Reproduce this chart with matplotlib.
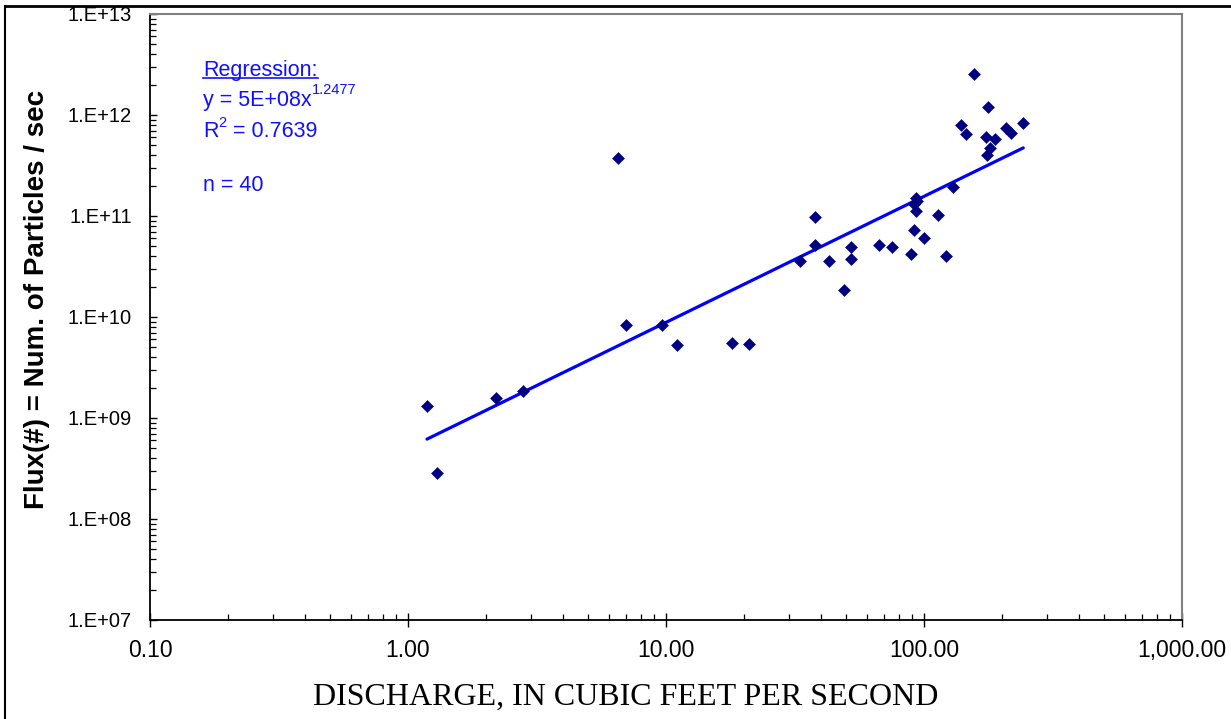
import numpy as np
import matplotlib
matplotlib.use("Agg")
import matplotlib.pyplot as plt
from matplotlib.ticker import FixedLocator, FixedFormatter, LogLocator, NullFormatter
from matplotlib.lines import Line2D

# Discharge (cfs) and particle flux (#/s) for the 40 samples
discharge = [1.185, 1.30, 2.19, 2.79, 6.52, 7.0, 9.65, 11.0, 18.0, 21.0,
             33.0, 37.8, 37.8, 42.8, 49.0, 52.0, 52.0, 66.9, 75.2, 89.1,
             91.7, 100.0, 113.6, 121.7, 93.1, 91.5, 93.1, 94.0, 130.0, 156.7,
             177.5, 139.5, 145.1, 173.9, 188.9, 208.0, 216.8, 242.6, 180.3, 175.0]
flux = [1.31e9, 2.85e8, 1.58e9, 1.85e9, 3.75e11, 8.3e9, 8.3e9, 5.28e9, 5.54e9, 5.4e9,
        3.58e10, 9.8e10, 5.16e10, 3.6e10, 1.85e10, 4.9e10, 3.72e10, 5.16e10, 4.9e10, 4.18e10,
        7.2e10, 6.05e10, 1.02e11, 4.05e10, 1.12e11, 1.32e11, 1.51e11, 1.40e11, 1.95e11, 2.55e12,
        1.21e12, 7.9e11, 6.44e11, 6.1e11, 5.82e11, 7.4e11, 6.7e11, 8.4e11, 4.68e11, 4.02e11]

# Power-law fit: y = a * x^b
fit_a = 5e8
fit_b = 1.2477
fit_r2 = 0.7639

x_ticks = [0.1, 1, 10, 100, 1000]
x_tick_labels = ["0.10", "1.00", "10.00", "100.00", "1,000.00"]
y_ticks = [1e7, 1e8, 1e9, 1e10, 1e11, 1e12, 1e13]
y_tick_labels = ["1.E+07", "1.E+08", "1.E+09", "1.E+10", "1.E+11", "1.E+12", "1.E+13"]

plt.rcParams["font.family"] = ["Liberation Sans", "DejaVu Sans"]

W, H = 1231, 719
fig = plt.figure(figsize=(W / 100, H / 100), dpi=100)
ax = fig.add_axes([150 / W, 1 - 620 / H, 1032 / W, 606 / H])


def fx(px):
    return px / W


def fy(py):
    return 1 - py / H


ax.set_xscale("log")
ax.set_yscale("log")
ax.set_xlim(0.1, 1000)
ax.set_ylim(1e7, 1e13)

# Fitted line over the range of the observations
xf = np.logspace(np.log10(min(discharge)), np.log10(max(discharge)), 100)
ax.plot(xf, fit_a * xf ** fit_b, color="#0000FF", lw=2.3, solid_capstyle="round", zorder=2)

ax.plot(discharge, flux, linestyle="none", marker="D", markersize=5.8,
        color="#000080", markeredgewidth=0.4, zorder=3)

# Axis ticks
ax.xaxis.set_major_locator(FixedLocator(x_ticks))
ax.xaxis.set_major_formatter(FixedFormatter(x_tick_labels))
ax.xaxis.set_minor_locator(LogLocator(base=10, subs=np.arange(2, 10), numticks=20))
ax.xaxis.set_minor_formatter(NullFormatter())
ax.yaxis.set_major_locator(FixedLocator(y_ticks))
ax.yaxis.set_major_formatter(FixedFormatter(y_tick_labels))
ax.yaxis.set_minor_locator(LogLocator(base=10, subs=np.arange(2, 10), numticks=20))
ax.yaxis.set_minor_formatter(NullFormatter())

ax.tick_params(axis="x", which="major", direction="inout", length=10, width=1.0,
               pad=9, labelsize=16.5)
ax.tick_params(axis="x", which="minor", direction="in", length=4, width=0.9)
ax.tick_params(axis="y", which="major", direction="in", length=5, width=1.0,
               pad=13, labelsize=14.5)
ax.tick_params(axis="y", which="minor", direction="in", length=4, width=0.9)

for side in ("left", "bottom"):
    ax.spines[side].set_color("black")
    ax.spines[side].set_linewidth(1.3)
for side in ("top", "right"):
    ax.spines[side].set_color("#808080")
    ax.spines[side].set_linewidth(1.5)

fig.text(fx(626), fy(705), "DISCHARGE, IN CUBIC FEET PER SECOND",
         family=["Liberation Serif"], fontsize=23, ha="center", va="baseline")
fig.text(fx(37), fy(299), "Flux(#) = Num. of Particles / sec", fontsize=20,
         fontweight="bold", rotation=90, ha="center", va="center")

# Regression annotation
blue = "#1010FF"
fs = 15.5
tx = fx(203)
reg = fig.text(tx, fy(76), "Regression:", color=blue, fontsize=fs, va="baseline")
eq = fig.text(tx, fy(106), "y = 5E+08x", color=blue, fontsize=fs, va="baseline")
r2 = fig.text(tx, fy(137), "R", color=blue, fontsize=fs, va="baseline")
fig.text(tx, fy(191), f"n = {len(discharge)}", color=blue, fontsize=fs, va="baseline")

fig.canvas.draw()
renderer = fig.canvas.get_renderer()

bb = reg.get_window_extent(renderer)
fig.add_artist(Line2D([bb.x0 / W, bb.x1 / W], [fy(78), fy(78)], color=blue, lw=1.2))

bb = eq.get_window_extent(renderer)
fig.text(bb.x1 / W, fy(94), f"{fit_b}", color=blue, fontsize=10.5, va="baseline")

bb = r2.get_window_extent(renderer)
sup = fig.text(bb.x1 / W, fy(127), "2", color=blue, fontsize=10.5, va="baseline")
fig.canvas.draw()
bb = sup.get_window_extent(renderer)
fig.text(bb.x1 / W, fy(137), f" = {fit_r2}", color=blue, fontsize=fs, va="baseline")

# Outer page frame
fig.add_artist(Line2D([5 / W, 1.0], [fy(6), fy(6)], color="black", lw=2.0, zorder=10))
fig.add_artist(Line2D([5 / W, 5 / W], [0, fy(6)], color="black", lw=1.5, zorder=10))

fig.savefig("out.png", dpi=100)
